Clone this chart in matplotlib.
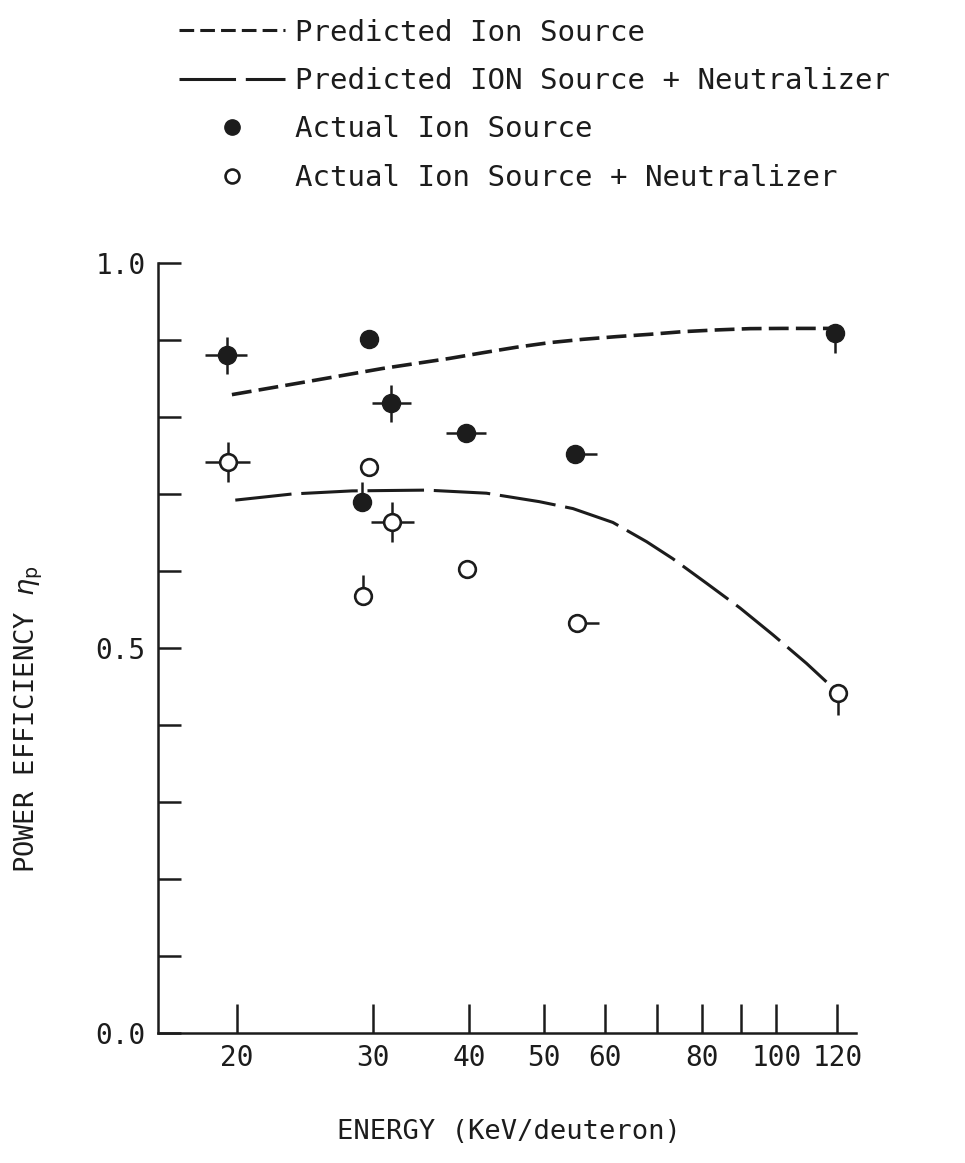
import matplotlib
matplotlib.use("Agg")
import matplotlib.pyplot as plt
from matplotlib.lines import Line2D

ink = '#1c1c1c'
plt.rcParams['font.family'] = ['DejaVu Sans Mono']
plt.rcParams['mathtext.fontset'] = 'dejavusans'

# predicted curves
pred_src_x = [19.7, 24.7, 30.9, 37.7, 41.7, 46.0, 50.8, 56.1, 62.0, 68.5, 75.7,
              83.6, 92.4, 102, 112.7, 117]
pred_src_y = [0.829, 0.846, 0.863, 0.876, 0.8835, 0.8905, 0.8965, 0.9008, 0.9043,
              0.9073, 0.9108, 0.913, 0.9147, 0.915, 0.915, 0.915]

pred_neu_x = [19.9, 23.6, 28.2, 35.2, 42.1, 49.3, 54.5, 61.4, 67.9, 73.4, 81.2,
              89.7, 99.0, 109.4, 116.1]
pred_neu_y = [0.692, 0.700, 0.704, 0.705, 0.701, 0.690, 0.681, 0.663, 0.638, 0.616,
              0.584, 0.552, 0.517, 0.480, 0.456]

# measured points, actual ion source (filled)
src_x = [19.4, 29.7, 31.7, 39.6, 29.0, 54.9, 119]
src_y = [0.880, 0.901, 0.818, 0.779, 0.690, 0.752, 0.909]
src_xlo = [1.2, 0, 1.8, 2.3, 0, 0, 0]
src_xhi = [1.2, 0, 1.9, 2.5, 0, 3.7, 0]
src_ylo = [0.024, 0, 0.024, 0, 0, 0, 0.026]
src_yhi = [0.024, 0, 0.024, 0, 0.026, 0, 0]

# actual ion source + neutralizer (open)
neu_x = [19.5, 29.7, 31.8, 39.7, 29.1, 55.1, 120.2]
neu_y = [0.742, 0.735, 0.663, 0.603, 0.568, 0.533, 0.441]
neu_xlo = [1.3, 0, 2.0, 0, 0, 0, 0]
neu_xhi = [1.3, 0, 2.1, 0, 0, 3.8, 0]
neu_ylo = [0.026, 0, 0.026, 0, 0, 0, 0.028]
neu_yhi = [0.026, 0, 0.026, 0, 0.027, 0, 0]

xticks = [20, 30, 40, 50, 60, 70, 80, 90, 100, 120]
xlabels = ['20', '30', '40', '50', '60', '', '80', '', '100', '120']
yticks = [0.0, 0.1, 0.2, 0.3, 0.4, 0.5, 0.6, 0.7, 0.8, 0.9, 1.0]
ylabels = ['0.0', '', '', '', '', '0.5', '', '', '', '', '1.0']

fig = plt.figure(figsize=(9.65, 11.63), dpi=100)
ax = fig.add_axes([0.1637, 0.1118, 0.7233, 0.6621])

ax.plot(pred_src_x, pred_src_y, color=ink, lw=2.6, dashes=(5.5, 2.0))
ax.plot(pred_neu_x, pred_neu_y, color=ink, lw=2.2, dashes=(18.5, 3.2))

ax.errorbar(src_x, src_y, xerr=[src_xlo, src_xhi], yerr=[src_ylo, src_yhi],
            fmt='o', ms=13, color=ink, mfc=ink, mec=ink, ecolor=ink,
            elinewidth=1.8, capsize=0, zorder=3)
ax.errorbar(neu_x, neu_y, xerr=[neu_xlo, neu_xhi], yerr=[neu_ylo, neu_yhi],
            fmt='o', ms=12, color=ink, mfc='white', mec=ink, mew=1.9,
            ecolor=ink, elinewidth=1.8, capsize=0, zorder=3)

ax.set_xscale('log')
ax.set_xlim(15.8, 126.8)
ax.set_ylim(0, 1.0)
ax.set_xticks(xticks)
ax.set_xticklabels(xlabels)
ax.xaxis.set_minor_locator(matplotlib.ticker.NullLocator())
ax.set_yticks(yticks)
ax.set_yticklabels(ylabels)

for s in ['top', 'right']:
    ax.spines[s].set_visible(False)
for s in ['left', 'bottom']:
    ax.spines[s].set_linewidth(1.8)
    ax.spines[s].set_color(ink)
ax.tick_params(axis='x', direction='in', length=21, width=1.8, color=ink,
               labelsize=20, pad=8, labelcolor=ink)
ax.tick_params(axis='y', direction='in', length=16.5, width=1.8, color=ink,
               labelsize=20, pad=9, labelcolor=ink)

fig.text(0.527, 0.027, 'ENERGY (KeV/deuteron)', ha='center', va='center',
         fontsize=19.5, color=ink)
fig.text(0.03, 0.382, r'POWER EFFICIENCY $\eta_{\mathrm{p}}$', rotation=90,
         ha='center', va='center', fontsize=19.5, color=ink)

handles = [Line2D([], [], color=ink, lw=2.2, dashes=(4.8, 2.0)),
           Line2D([], [], color=ink, lw=2.2, dashes=(18.5, 3.2)),
           Line2D([], [], ls='none', marker='o', ms=11, color=ink),
           Line2D([], [], ls='none', marker='o', ms=10, mfc='white', mec=ink, mew=1.9)]
labels = ['Predicted Ion Source', 'Predicted ION Source + Neutralizer',
          'Actual Ion Source', 'Actual Ion Source + Neutralizer']
fig.legend(handles, labels, loc='upper left', bbox_to_anchor=(0.185, 0.984),
           frameon=False, fontsize=21, handlelength=3.65, handletextpad=0.35,
           labelspacing=0.7, borderpad=0, borderaxespad=0, labelcolor=ink)

fig.savefig('out.png', dpi=100, facecolor='white')
